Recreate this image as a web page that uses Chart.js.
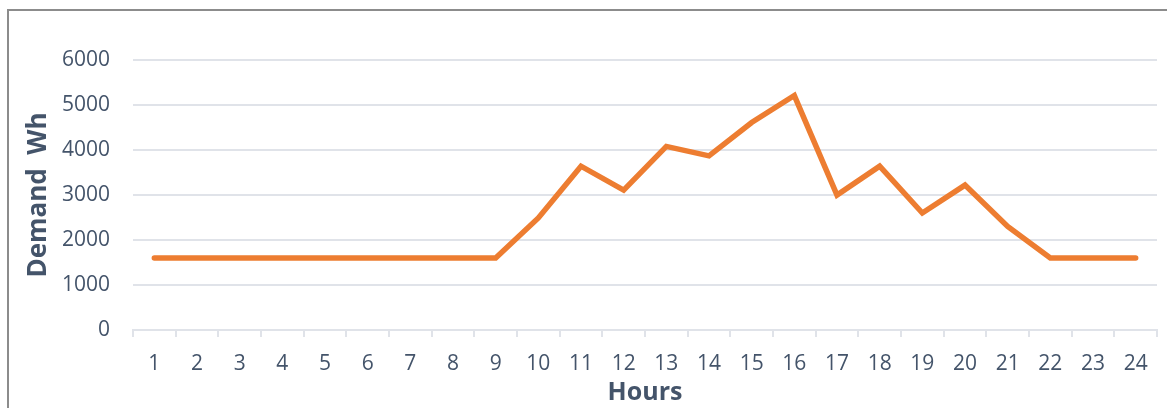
<!DOCTYPE html>
<html>
<head>
<meta charset="utf-8">
<script src="https://cdn.jsdelivr.net/npm/chart.js@4"></script>
<style>
  html, body { margin: 0; padding: 0; background: #fff; overflow: hidden; }
  #wrap { position: relative; width: 1167px; height: 408px; }
  #frame { position: absolute; left: 7px; top: 9px; width: 1200px; height: 450px;
           border-left: 2px solid #8c8c8c; border-top: 2px solid #8c8c8c; }
  canvas { position: absolute; left: 0; top: 0; }
</style>
</head>
<body>
<div id="wrap">
  <div id="frame"></div>
  <canvas id="c" width="1167" height="408"></canvas>
</div>
<script>
// Hourly energy demand (Wh) over a day
const hours = ['1','2','3','4','5','6','7','8','9','10','11','12',
               '13','14','15','16','17','18','19','20','21','22','23','24'];
const demand = [1600,1600,1600,1600,1600,1600,1600,1600,1600,2490,3640,3110,
                4080,3870,4610,5210,3000,3640,2600,3220,2300,1600,1600,1600];
const yTicks = { min: 0, max: 6000, step: 1000 };

const textColor = '#44546a';
const gridColor = '#e0e3e9';

new Chart(document.getElementById('c'), {
  type: 'line',
  data: {
    labels: hours,
    datasets: [{
      data: demand,
      borderColor: '#ed7d31',
      backgroundColor: '#ed7d31',
      borderWidth: 5.5,
      borderCapStyle: 'round',
      borderJoinStyle: 'miter',
      pointRadius: 0,
      tension: 0,
      fill: false
    }]
  },
  options: {
    responsive: false,
    animation: false,
    layout: { padding: { left: 0, top: 60, right: 10, bottom: 0 } },
    plugins: { legend: { display: false }, tooltip: { enabled: false } },
    scales: {
      x: {
        offset: true,
        grid: { offset: true, drawOnChartArea: false, drawTicks: true, tickLength: 7,
                color: gridColor, lineWidth: 2 },
        border: { display: true, color: gridColor, width: 2 },
        ticks: { color: textColor, padding: 14, maxRotation: 0, autoSkip: false,
                 font: { family: 'Open Sans', size: 21 } },
        title: { display: true, text: 'Hours', color: textColor,
                 padding: { top: 0, bottom: 0 },
                 font: { family: 'Open Sans', size: 25, weight: 'bold' } },
        afterFit: (s) => { s.height = 78; }
      },
      y: {
        min: yTicks.min, max: yTicks.max,
        grid: { drawTicks: false, color: gridColor, lineWidth: 2 },
        border: { display: false },
        ticks: { stepSize: yTicks.step, color: textColor, padding: 23,
                 callback: (v) => String(v),
                 font: { family: 'Open Sans', size: 21 } },
        title: { display: true, text: 'Demand  Wh', color: textColor,
                 padding: { top: 23, bottom: 0 },
                 font: { family: 'Open Sans', size: 26, weight: 'bold' } },
        afterFit: (s) => { s.width = 133; }
      }
    }
  }
});
</script>
</body>
</html>
